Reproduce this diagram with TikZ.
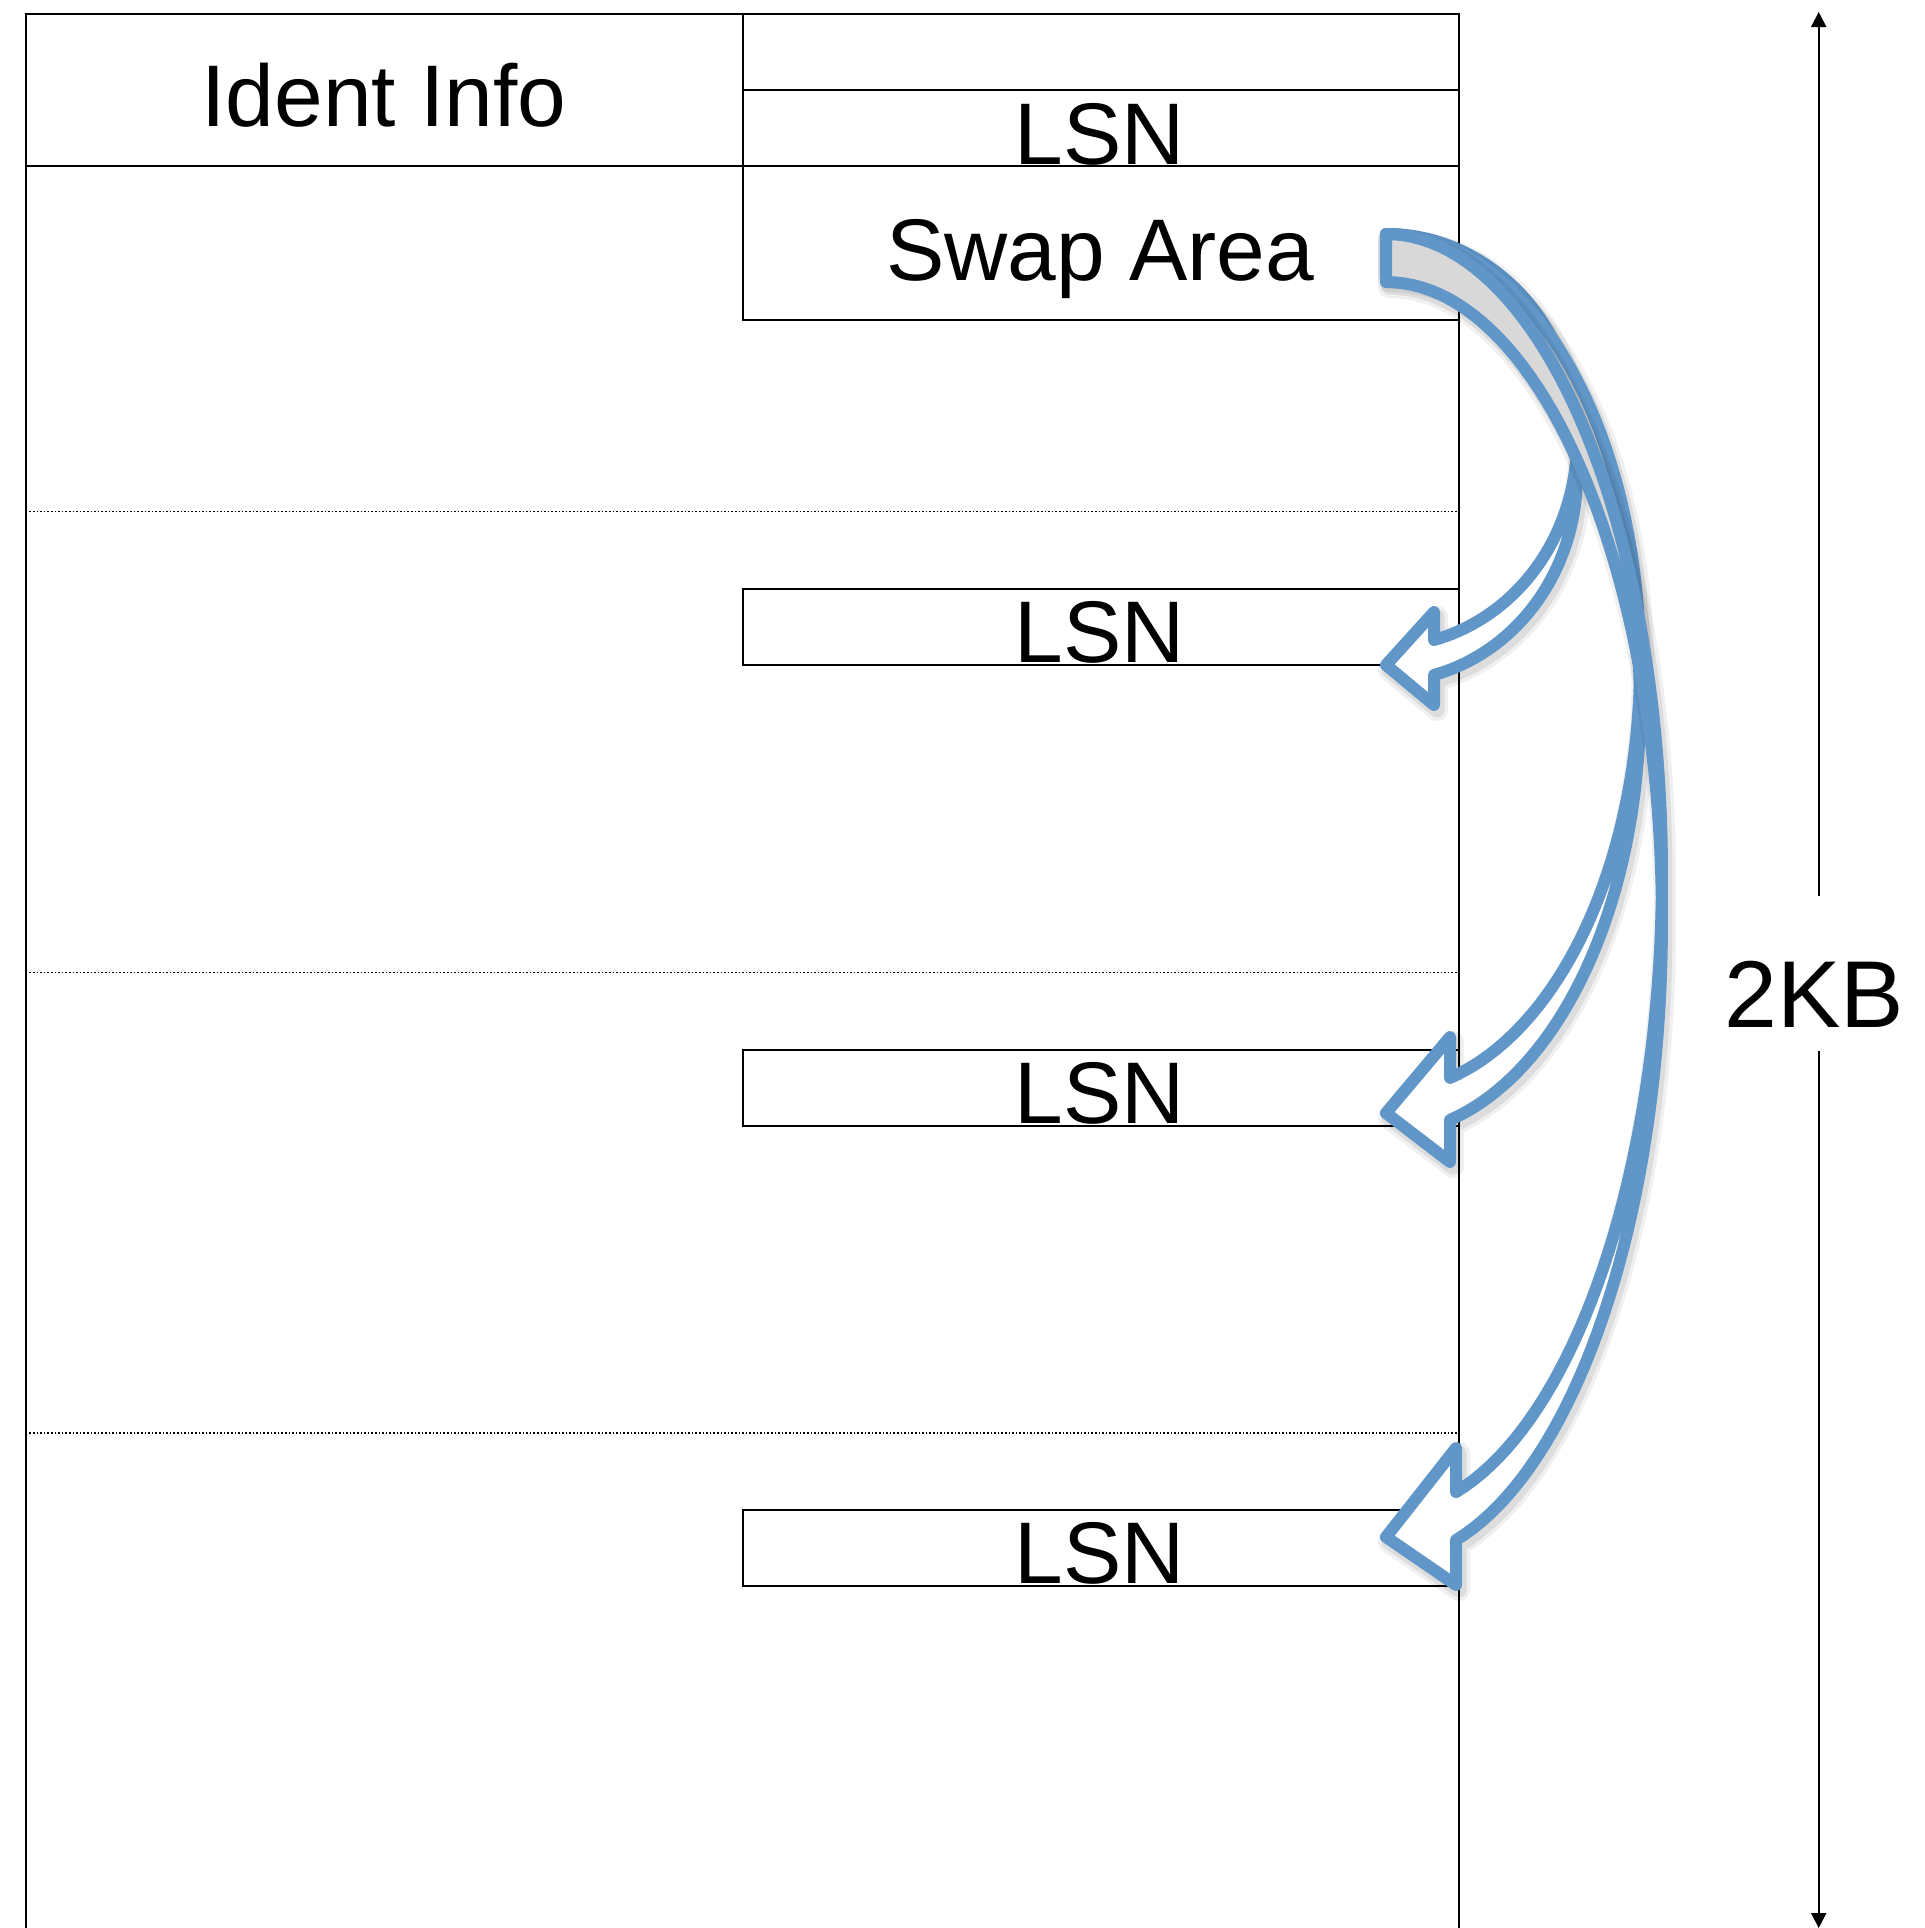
\documentclass[tikz,border=0pt]{standalone}
\usepackage{fontspec}
\setmainfont{Liberation Sans}
\usetikzlibrary{arrows.meta}

\definecolor{arrowblue}{RGB}{96,150,200}
\definecolor{backgray}{RGB}{216,216,216}

% x position of the common tail of the curved arrows (also the tip x)
\newcommand\tailx{1386}

% Curved "swap" arrow built from two equal ellipses centred on x = \tailx.
% #1 x radius, #2 y radius, #3 centre y of the upper ellipse, #4 band thickness,
% #5 angle at the neck, #6 neck x, #7 head top y, #8 tip y, #9 head bottom y
\newcommand\swaparrow[9]{%
  \pgfmathsetmacro\lowc{#3+#4}%
  % soft shadow under the outline, in two passes
  \foreach \sw/\so in {22pt/0.06, 15pt/0.08}{%
    \draw[arrowshadow, line width=\sw, opacity=\so] (\tailx,{#3-#2})
      -- plot[domain=-90:#5,samples=90,variable=\t] ({\tailx+#1*cos(\t)},{#3+#2*sin(\t)})
      -- (#6,#7) -- (\tailx,#8) -- (#6,#9)
      -- plot[domain=#5:-90,samples=90,variable=\t] ({\tailx+#1*cos(\t)},{\lowc+#2*sin(\t)})
      -- cycle;
  }%
  % back face of the band
  \fill[backgray] (\tailx,{#3-#2})
    -- plot[domain=-90:0,samples=60,variable=\t] ({\tailx+#1*cos(\t)},{#3+#2*sin(\t)})
    -- plot[domain=0:-90,samples=60,variable=\t] ({\tailx+#1*cos(\t)},{\lowc+#2*sin(\t)})
    -- cycle;
  % front face with the head
  \fill[white] plot[domain=0:#5,samples=60,variable=\t] ({\tailx+#1*cos(\t)},{#3+#2*sin(\t)})
    -- (#6,#7) -- (\tailx,#8) -- (#6,#9)
    -- plot[domain=#5:0,samples=60,variable=\t] ({\tailx+#1*cos(\t)},{\lowc+#2*sin(\t)})
    -- cycle;
  % outline
  \draw[arrowline] (\tailx,{#3-#2})
    -- plot[domain=-90:#5,samples=90,variable=\t] ({\tailx+#1*cos(\t)},{#3+#2*sin(\t)})
    -- (#6,#7) -- (\tailx,#8) -- (#6,#9)
    -- plot[domain=#5:-90,samples=90,variable=\t] ({\tailx+#1*cos(\t)},{\lowc+#2*sin(\t)})
    -- cycle;
}

\begin{document}
\begin{tikzpicture}[
  x=1pt, y=-1pt,
  cell/.style={draw=black, line width=2pt},
  divider/.style={black, line width=1.6pt, dotted},
  label/.style={inner sep=0pt, anchor=base, font=\fontsize{87.5}{90}\selectfont},
  arrowline/.style={draw=arrowblue, line width=12pt, line join=round},
  arrowshadow/.style={draw=black, line join=round, shift={(3,5)}},
  dimline/.style={black, line width=2pt}
]
\useasboundingbox (0,0) rectangle (1925,1928);
\clip (0,0) rectangle (1925,1928);

% sector frame: left and right walls run off the bottom
\draw[cell] (25.8,1930) -- (25.8,13.5) -- (1459,13.5) -- (1459,1930);

% header cells
\draw[cell] (25.8,13.5) rectangle (742.5,166);
\draw[cell] (742.5,13.5) rectangle (1459,89.7);
\draw[cell] (742.5,89.7) rectangle (1459,166);
\draw[cell] (742.5,166) rectangle (1459,319.6);

% block boundaries
\draw[divider] (25.8,511.3) -- (1459,511.3);
\draw[divider] (25.8,972.3) -- (1459,972.3);
\draw[divider] (25.8,1433.2) -- (1459,1433.2);

% LSN cells of the later blocks
\draw[cell] (742.5,588.8) rectangle (1459,665);
\draw[cell] (742.5,1049.7) rectangle (1459,1126);
\draw[cell] (742.5,1509.5) rectangle (1459,1585.7);

% texts
\node[label] (ident) at (384,126.6) {Ident Info};
\node[label] (lsn0) at (1100,164) {LSN};
\node[label] (swap) at (1100,280.3) {Swap Area};
\node[label] (lsn1) at (1100,662.5) {LSN};
\node[label] (lsn2) at (1100,1123.3) {LSN};
\node[label] (lsn3) at (1100,1583) {LSN};

% size of the sector
\coordinate (dimtop) at (1818.7,12);
\coordinate (dimbot) at (1818.7,1928);
\coordinate (gaptop) at (1818.7,896);
\coordinate (gapbot) at (1818.7,1051);
\node[inner sep=0pt, anchor=base, font=\fontsize{95}{98}\selectfont] (kb) at (1814,1027.6) {2KB};
\draw[dimline, -{Triangle[width=15pt,length=15pt]}] (gaptop) -- (dimtop);
\draw[dimline, -{Triangle[width=15pt,length=15pt]}] (gapbot) -- (dimbot);

% curved arrows from the swap area to each LSN
\swaparrow{191}{206.3}{440.3}{35}{75.44}{1434}{612}{665}{705}
\swaparrow{254}{428.9}{662.9}{42}{75.40}{1450}{1037}{1113}{1162}
\swaparrow{276}{639.5}{873.5}{48}{75.31}{1456}{1448}{1537}{1585}
\end{tikzpicture}
\end{document}
